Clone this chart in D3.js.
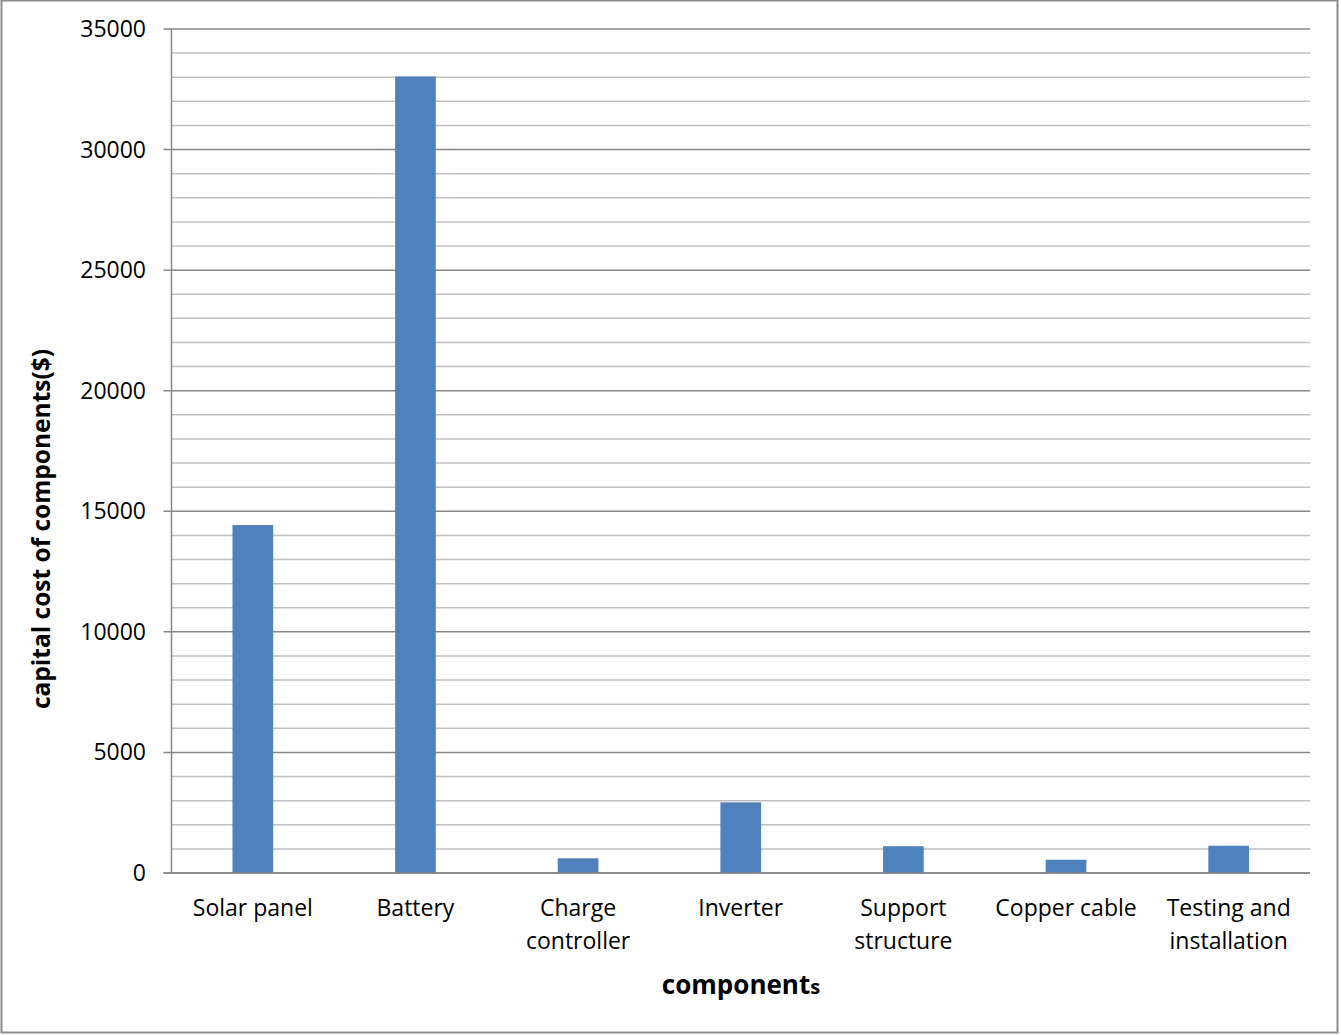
<!DOCTYPE html>
<html><head><meta charset="utf-8">
<script src="https://cdn.jsdelivr.net/npm/d3@7"></script>
<style>body{margin:0;background:#fff}svg{display:block}</style>
</head><body>
<script>
const categories = [["Solar panel"],["Battery"],["Charge","controller"],["Inverter"],["Support","structure"],["Copper cable"],["Testing and","installation"]];
const values = [14430, 33030, 610, 2930, 1110, 550, 1130];
const majorTicks = [0, 5000, 10000, 15000, 20000, 25000, 30000, 35000];
const minorTicks = d3.range(0, 35001, 1000);

const W = 1341, H = 1035;
const svg = d3.select("body").append("svg").attr("width", W).attr("height", H);
const FONT = "'Open Sans', sans-serif";

svg.append("rect").attr("x",1.5).attr("y",0.5).attr("width",1336).attr("height",1032)
  .attr("fill","#fff").attr("stroke","#8c8c8c").attr("stroke-width",2);

const x0 = 171.5, x1 = 1310, yTop = 29, yBot = 873;
const x = d3.scaleBand().domain(d3.range(categories.length)).range([x0, x1]).paddingInner(0.75).paddingOuter(0.375);
const y = d3.scaleLinear().domain([0, 35000]).range([yBot, yTop]);

// minor gridlines
svg.append("g").selectAll("line").data(minorTicks.filter(v => v % 5000 !== 0)).join("line")
  .attr("x1", x0).attr("x2", x1).attr("y1", d => y(d)).attr("y2", d => y(d))
  .attr("stroke", "#bfbfbf").attr("stroke-width", 1.5);

// major gridlines with ticks
svg.append("g").selectAll("line").data(majorTicks).join("line")
  .attr("x1", x0 - 8).attr("x2", x1).attr("y1", d => y(d)).attr("y2", d => y(d))
  .attr("stroke", "#868686").attr("stroke-width", 1.5);

// y axis line
svg.append("line").attr("x1", x0).attr("x2", x0).attr("y1", yTop).attr("y2", yBot)
  .attr("stroke", "#868686").attr("stroke-width", 1.5);

// bars
svg.append("g").selectAll("rect").data(values).join("rect")
  .attr("x", (d, i) => x(i)).attr("width", x.bandwidth())
  .attr("y", d => y(d)).attr("height", d => yBot - y(d))
  .attr("fill", "#4f81bd");

// re-draw baseline over bars
svg.append("line").attr("x1", x0 - 8).attr("x2", x1).attr("y1", yBot).attr("y2", yBot)
  .attr("stroke", "#868686").attr("stroke-width", 1.5);

// y tick labels
svg.append("g").selectAll("text").data(majorTicks).join("text")
  .attr("x", 146).attr("y", d => y(d)).attr("dy", "0.35em")
  .attr("text-anchor", "end").attr("font-family", FONT).attr("font-size", 23)
  .attr("fill", "#000").text(d => d);

// x tick labels
const xl = svg.append("g").selectAll("text").data(categories).join("text")
  .attr("x", (d, i) => x(i) + x.bandwidth() / 2).attr("y", 908)
  .attr("text-anchor", "middle").attr("font-family", FONT).attr("font-size", 23).attr("fill", "#000");
xl.each(function(d) {
  const t = d3.select(this);
  d.forEach((line, k) => {
    t.append("tspan").attr("x", t.attr("x")).attr("dy", k === 0 ? "0.35em" : 33).text(line);
  });
});

// y axis title
svg.append("text").attr("transform", "translate(41,529) rotate(-90)")
  .attr("text-anchor", "middle").attr("dy", "0.35em")
  .attr("font-family", FONT).attr("font-weight", "bold").attr("font-size", 24.5)
  .text("capital cost of components($)");

// x axis title
const xt = svg.append("text").attr("x", 741).attr("y", 985).attr("dy", "0.35em")
  .attr("text-anchor", "middle").attr("font-family", FONT).attr("font-weight", "bold").attr("font-size", 26);
xt.append("tspan").text("component");
xt.append("tspan").attr("font-size", 20).text("s");
</script>
</body></html>
